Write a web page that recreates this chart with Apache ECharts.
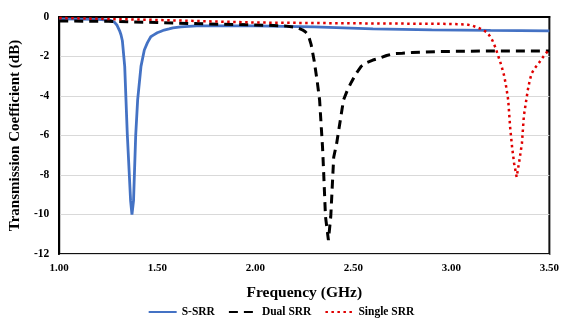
<!DOCTYPE html>
<html>
<head>
<meta charset="utf-8">
<script src="https://cdn.jsdelivr.net/npm/echarts@6/dist/echarts.min.js"></script>
<style>html,body{margin:0;padding:0;background:#fff;}#c{width:562px;height:323px;}</style>
</head>
<body>
<div id="c"></div>
<script>
const xTicks = ['1.00','1.50','2.00','2.50','3.00','3.50'];
const yTicks = [0,-2,-4,-6,-8,-10,-12];

const sFreq = [1.00,1.20,1.26,1.28,1.29,1.295,1.30,1.308,1.315,1.322,1.334,1.347,1.364,1.371,1.379,1.39,1.40,1.417,1.434,1.45,1.467,1.48,1.50,1.52,1.535,1.56,1.58,1.62,1.70,2.00,2.30,2.60,2.90,3.20,3.50];
const sVal  = [-0.1,-0.12,-0.17,-0.25,-0.35,-0.42,-0.5,-0.7,-0.9,-1.2,-2.5,-5.9,-9.3,-10.0,-9.3,-6.0,-4.2,-2.5,-1.67,-1.3,-1.0,-0.92,-0.8,-0.72,-0.66,-0.6,-0.55,-0.5,-0.45,-0.45,-0.5,-0.6,-0.65,-0.68,-0.7];

const dFreq = [1.00,1.25,1.50,1.75,2.00,2.15,2.20,2.22,2.24,2.255,2.27,2.285,2.30,2.315,2.328,2.343,2.348,2.358,2.373,2.385,2.40,2.415,2.45,2.47,2.49,2.515,2.54,2.57,2.60,2.63,2.67,2.71,2.75,2.80,2.93,3.20,3.50];
const dVal  = [-0.2,-0.22,-0.28,-0.35,-0.4,-0.45,-0.52,-0.57,-0.65,-0.75,-0.9,-1.4,-2.2,-3.2,-4.2,-6.6,-7.7,-10.1,-11.3,-10.1,-7.1,-6.4,-4.2,-3.7,-3.3,-2.85,-2.5,-2.3,-2.18,-2.1,-1.95,-1.85,-1.83,-1.8,-1.75,-1.72,-1.72];

const rFreq = [1.00,1.50,2.00,2.50,3.00,3.08,3.11,3.13,3.15,3.18,3.195,3.21,3.225,3.24,3.255,3.27,3.28,3.29,3.30,3.31,3.32,3.333,3.345,3.36,3.37,3.39,3.40,3.41,3.425,3.445,3.47,3.49,3.50];
const rVal  = [-0.05,-0.15,-0.28,-0.32,-0.35,-0.38,-0.45,-0.52,-0.6,-0.76,-0.95,-1.2,-1.55,-2.0,-2.45,-3.0,-3.55,-4.2,-5.6,-6.6,-7.4,-8.1,-7.4,-6.4,-5.0,-3.7,-3.2,-2.85,-2.6,-2.35,-2.0,-1.75,-1.65];

const pair = (xs, ys) => xs.map((x, i) => [x, ys[i]]);
const serif = "'Liberation Serif','Times New Roman',serif";

const chart = echarts.init(document.getElementById('c'));
chart.setOption({
  animation: false,
  backgroundColor: '#fff',
  grid: { left: 54, right: 7, top: 17, bottom: 69, show: true, borderColor: '#111', borderWidth: 2 },
  xAxis: {
    type: 'value', min: 1, max: 3.5, interval: 0.5,
    name: 'Frequency (GHz)', nameLocation: 'middle', nameGap: 31,
    nameTextStyle: { fontFamily: serif, fontWeight: 'bold', fontSize: 15.5, color: '#000' },
    axisLine: { show: true, lineStyle: { color: '#000', width: 2 } },
    axisTick: { show: false },
    splitLine: { show: false },
    axisLabel: { fontFamily: serif, fontWeight: 'bold', fontSize: 11, color: '#000', margin: 9,
      formatter: v => xTicks.find(t => Math.abs(parseFloat(t) - v) < 1e-6) || '' }
  },
  yAxis: {
    type: 'value', min: -12, max: 0, interval: 2,
    name: 'Transmission Coefficient (dB)', nameLocation: 'middle', nameGap: 29,
    nameTextStyle: { fontFamily: serif, fontWeight: 'bold', fontSize: 15, color: '#000' },
    axisLine: { show: true, lineStyle: { color: '#000', width: 2 } },
    axisTick: { show: false },
    splitLine: { show: true, lineStyle: { color: '#d9d9d9', width: 1 } },
    axisLabel: { fontFamily: serif, fontWeight: 'bold', fontSize: 11.5, color: '#000', margin: 10,
      formatter: v => yTicks.includes(v) ? String(v) : '' }
  },
  legend: {
    bottom: 0, left: 'center', itemWidth: 28, itemHeight: 10, itemGap: 13,
    itemStyle: { opacity: 0 },
    textStyle: { fontFamily: serif, fontWeight: 'bold', fontSize: 11.5, color: '#000' },
    data: ['S-SRR', 'Dual SRR', 'Single SRR']
  },
  series: [
    { name: 'S-SRR', type: 'line', data: pair(sFreq, sVal), symbol: 'none', smooth: false,
      lineStyle: { color: '#4472c4', width: 2.8 }, itemStyle: { color: '#4472c4' }, z: 3 },
    { name: 'Dual SRR', type: 'line', data: pair(dFreq, dVal), symbol: 'none', smooth: false,
      lineStyle: { color: '#000', width: 3, type: [9, 6] }, itemStyle: { color: '#000' }, z: 4 },
    { name: 'Single SRR', type: 'line', data: pair(rFreq, rVal), symbol: 'none', smooth: false,
      lineStyle: { color: '#e00000', width: 2.5, type: [2.5, 3.5] }, itemStyle: { color: '#e00000' }, z: 5 }
  ]
});
</script>
</body>
</html>
